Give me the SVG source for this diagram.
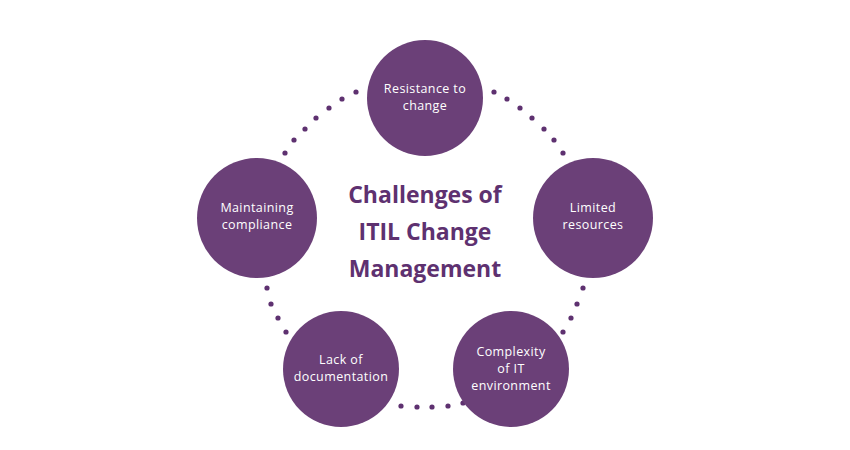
<svg xmlns="http://www.w3.org/2000/svg" width="850" height="450" viewBox="0 0 850 450">
<style>
.node{fill:#6b4078}
.lbl{font-family:"Open Sans","Liberation Sans",sans-serif;font-size:12.5px;letter-spacing:0.4px;fill:#ffffff;text-anchor:middle}
.title{font-family:"Open Sans","Liberation Sans",sans-serif;font-size:23px;font-weight:700;fill:#5e3170;text-anchor:middle}
.dot{fill:#5e3170}
</style>
<rect width="850" height="450" fill="#ffffff"/>
<g id="connectors">
<circle class="dot" cx="356" cy="92" r="2.6"/>
<circle class="dot" cx="342" cy="99" r="2.6"/>
<circle class="dot" cx="329" cy="108" r="2.6"/>
<circle class="dot" cx="316" cy="118" r="2.6"/>
<circle class="dot" cx="305" cy="129" r="2.6"/>
<circle class="dot" cx="294" cy="140" r="2.6"/>
<circle class="dot" cx="285" cy="153" r="2.6"/>
<circle class="dot" cx="494" cy="92" r="2.6"/>
<circle class="dot" cx="507" cy="99" r="2.6"/>
<circle class="dot" cx="520" cy="108" r="2.6"/>
<circle class="dot" cx="532" cy="118" r="2.6"/>
<circle class="dot" cx="544" cy="129" r="2.6"/>
<circle class="dot" cx="554" cy="140" r="2.6"/>
<circle class="dot" cx="563" cy="153" r="2.6"/>
<circle class="dot" cx="267" cy="288" r="2.6"/>
<circle class="dot" cx="271" cy="304" r="2.6"/>
<circle class="dot" cx="278" cy="318" r="2.6"/>
<circle class="dot" cx="286" cy="332" r="2.6"/>
<circle class="dot" cx="583" cy="288" r="2.6"/>
<circle class="dot" cx="577" cy="304" r="2.6"/>
<circle class="dot" cx="571" cy="318" r="2.6"/>
<circle class="dot" cx="563" cy="332" r="2.6"/>
<circle class="dot" cx="401" cy="406" r="2.6"/>
<circle class="dot" cx="417" cy="407" r="2.6"/>
<circle class="dot" cx="432" cy="407" r="2.6"/>
<circle class="dot" cx="448" cy="406" r="2.6"/>
<circle class="dot" cx="463" cy="403" r="2.6"/>
</g>
<g id="title">
<text class="title" x="425" y="203">Challenges of</text>
<text class="title" x="425" y="240">ITIL Change</text>
<text class="title" x="425" y="277">Management</text>
</g>
<g id="resistance">
<circle class="node" cx="425" cy="98" r="58"/>
<text class="lbl" x="425" y="93">Resistance to</text>
<text class="lbl" x="425" y="110">change</text>
</g>
<g id="maintaining">
<circle class="node" cx="257" cy="218" r="60"/>
<text class="lbl" x="257" y="212">Maintaining</text>
<text class="lbl" x="257" y="229">compliance</text>
</g>
<g id="limited">
<circle class="node" cx="593" cy="218" r="60"/>
<text class="lbl" x="593" y="212">Limited</text>
<text class="lbl" x="593" y="229">resources</text>
</g>
<g id="lack">
<circle class="node" cx="341" cy="369" r="58"/>
<text class="lbl" x="341" y="364">Lack of</text>
<text class="lbl" x="341" y="381">documentation</text>
</g>
<g id="complexity">
<circle class="node" cx="511" cy="369" r="58"/>
<text class="lbl" x="511" y="356">Complexity</text>
<text class="lbl" x="511" y="373">of IT</text>
<text class="lbl" x="511" y="390">environment</text>
</g>
</svg>
